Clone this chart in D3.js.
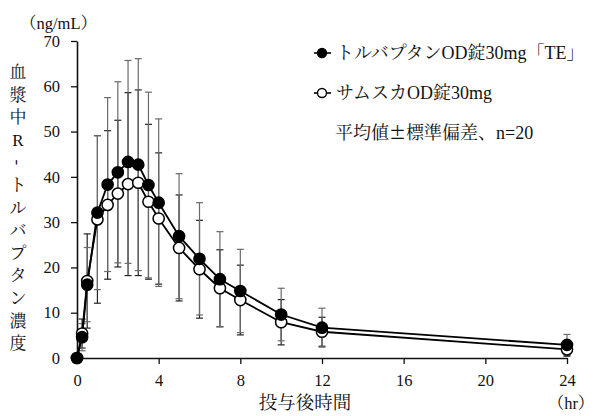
<!DOCTYPE html>
<html><head><meta charset="utf-8">
<script src="https://cdn.jsdelivr.net/npm/d3@7"></script>
<style>
html,body{margin:0;padding:0;background:#fff;}
svg{display:block;}
text{font-family:"Liberation Serif","Noto Serif CJK JP","Noto Sans CJK JP",serif;fill:#111;}
</style></head>
<body>
<svg id="c" width="600" height="416"></svg>
<script>
const times = [0, 0.25, 0.5, 1, 1.5, 2, 2.5, 3, 3.5, 4, 5, 6, 7, 8, 10, 12, 24];
const teMean = [0, 4.6, 16.2, 32.1, 38.3, 41.0, 43.3, 42.7, 38.2, 34.3, 26.9, 21.9, 17.4, 14.8, 9.6, 6.7, 2.9];
const teSD   = [0, 3.0, 8.2, 17.0, 19.2, 20.0, 22.4, 23.4, 20.5, 18.5, 13.8, 12.4, 10.5, 9.2, 5.8, 4.3, 2.3];
const saMean = [0, 5.4, 17.0, 30.6, 33.8, 36.3, 38.4, 38.7, 34.5, 30.8, 24.3, 19.6, 15.4, 12.8, 7.9, 5.8, 1.9];
const saSD   = [0, 3.2, 10.4, 18.5, 16.4, 16.2, 20.2, 20.5, 17.1, 14.5, 11.7, 10.8, 8.5, 7.7, 5.0, 3.2, 1.5];
const xTicks = [0, 4, 8, 12, 16, 20, 24];
const yTicks = [0, 10, 20, 30, 40, 50, 60, 70];
const seriesNames = ["トルバプタンOD錠30mg「TE」", "サムスカOD錠30mg"];
const noteParts = ["平均値", "±", "標準偏差、n=20"];
const yLabel = "血漿中R-トルバプタン濃度";
const yUnit = "（ng/mL）";
const xLabel = "投与後時間";
const xUnit = "（hr）";

const svg = d3.select("#c");
const x = d3.scaleLinear().domain([0, 24]).range([77, 567]);
const y = d3.scaleLinear().domain([0, 70]).range([358, 41]);

// axes
const yAxis = svg.append("g").attr("transform", "translate(77,0)")
  .call(d3.axisLeft(y).tickValues(yTicks).tickSize(6).tickPadding(11).tickSizeOuter(0));
const xAxis = svg.append("g").attr("transform", "translate(0,358)")
  .call(d3.axisBottom(x).tickValues(xTicks).tickSize(6).tickPadding(10).tickSizeOuter(0));
[yAxis, xAxis].forEach(a => {
  a.select(".domain").attr("stroke", "#111").attr("stroke-width", 1.6);
  a.selectAll(".tick line").attr("stroke", "#111").attr("stroke-width", 1.3);
  a.selectAll(".tick text").attr("font-size", 16.5).attr("fill", "#111")
    .style("font-family", "'Liberation Serif',serif");
});

const series = [
  {mean: saMean, sd: saSD, fill: "#fff", err: "#222"},
  {mean: teMean, sd: teSD, fill: "#000", err: "#6a6a6a"}
];

// error bars
series.forEach(s => {
  const g = svg.append("g");
  times.forEach((t, i) => {
    if (s.sd[i] <= 0) return;
    const cx = x(t), y1 = y(s.mean[i] + s.sd[i]), y0 = y(Math.max(0, s.mean[i] - s.sd[i]));
    g.append("line").attr("x1", cx).attr("x2", cx).attr("y1", y1).attr("y2", y0)
      .attr("stroke", s.err).attr("stroke-width", 1.2);
    [y1, y0].forEach(yy => g.append("line").attr("x1", cx - 3.5).attr("x2", cx + 3.5)
      .attr("y1", yy).attr("y2", yy).attr("stroke", s.err).attr("stroke-width", 1.2));
  });
});

// lines and markers
const line = d3.line().x(d => x(d[0])).y(d => y(d[1]));
series.forEach(s => {
  const pts = times.map((t, i) => [t, s.mean[i]]);
  svg.append("path").datum(pts).attr("d", line).attr("fill", "none")
    .attr("stroke", "#000").attr("stroke-width", 1.8);
});
series.forEach(s => {
  const pts = times.map((t, i) => [t, s.mean[i]]);
  svg.append("g").selectAll("circle").data(pts).join("circle")
    .attr("cx", d => x(d[0])).attr("cy", d => y(d[1])).attr("r", 5.6)
    .attr("fill", s.fill).attr("stroke", "#000").attr("stroke-width", 1.5);
});

// legend
const leg = [
  {name: seriesNames[0], fill: "#000", y: 53},
  {name: seriesNames[1], fill: "#fff", y: 93}
];
leg.forEach(l => {
  svg.append("line").attr("x1", 314).attr("x2", 331).attr("y1", l.y).attr("y2", l.y)
    .attr("stroke", "#000").attr("stroke-width", 1.6);
  svg.append("circle").attr("cx", 322).attr("cy", l.y).attr("r", 4.5)
    .attr("fill", l.fill).attr("stroke", "#000").attr("stroke-width", 1.4);
  svg.append("text").attr("x", 336).attr("y", l.y + 6).attr("font-size", 18).text(l.name);
});
const note = svg.append("text").attr("x", 335).attr("y", 139).attr("font-size", 18);
noteParts.forEach((p, i) => {
  const ts = note.append("tspan").text(p);
  if (i === 1) ts.style("font-family", "'Noto Sans CJK JP',sans-serif").attr("font-size", 17);
});

// axis titles
svg.append("text").attr("x", 20).attr("y", 29).attr("font-size", 16.5).text(yUnit);
svg.append("text").attr("x", 305).attr("y", 409).attr("text-anchor", "middle").attr("font-size", 18.5).text(xLabel);
svg.append("text").attr("x", 571).attr("y", 409).attr("text-anchor", "middle").attr("font-size", 16.5).text(xUnit);
const chars = Array.from(yLabel);
const yl = svg.append("g");
chars.forEach((c, i) => {
  const cy = 78 + i * 22.6;
  const t = yl.append("text").attr("x", 18).attr("y", cy).attr("text-anchor", "middle")
    .attr("font-size", 17).attr("fill", "#333").text(c);
  if (c === "-") {
    t.attr("transform", `rotate(90,18,${cy - 6})`);
  }
});
</script>
</body></html>
